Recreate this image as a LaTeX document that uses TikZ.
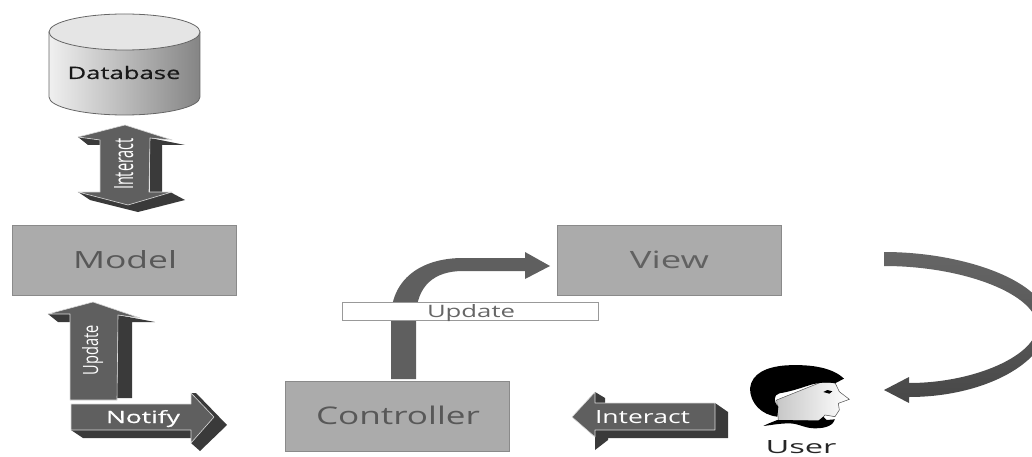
\documentclass[tikz,border=0pt]{standalone}
\usepackage{fontspec}
\usepackage{graphicx}
\setmainfont{Open Sans}
\newcommand{\fittext}[3]{\resizebox{#1pt}{#2pt}{#3}}
\definecolor{front}{HTML}{5F5F5F}
\definecolor{side}{HTML}{3A3A3A}
\definecolor{boxfill}{HTML}{ABABAB}
\definecolor{boxline}{HTML}{8A8A8A}
\definecolor{boxtext}{HTML}{585858}
\tikzset{
  frontface/.style={fill=front,draw=white!85!black,line width=.6pt,line join=round},
  sideface/.style={fill=side,draw=none},
  blockbox/.style={rectangle,draw=boxline,fill=boxfill,line width=1.2pt,minimum width=224pt,minimum height=70pt,inner sep=0pt,anchor=north west},
  lbl/.style={anchor=base,inner sep=0pt,outer sep=0pt,text=boxtext},
  wlbl/.style={lbl,text=white},
}
\begin{document}
\begin{tikzpicture}[x=1pt,y=-1pt]
\useasboundingbox (0,0) rectangle (1032,457);
% database
\path[left color=white!94!black,right color=white!52!black,draw=black!60,line width=.8pt]
  (49,32) -- (49,97) arc[start angle=180,end angle=360,x radius=75.5,y radius=-18] -- (200,32) -- cycle;
\path[fill=white!90!black,draw=black!60,line width=.8pt] (124.5,32) ellipse[x radius=75.5,y radius=18];
\node[lbl,text=black!90] (database) at (124,79) {\fittext{113}{13}{\addfontfeature{FakeBold=0.5}Database}};
% interact vertical
\path[sideface] (88,145) -- (78,137) -- (100,140) -- (100,145) -- cycle;
\path[sideface] (150,138) -- (185,145) -- (165,145) -- (162,145) -- (162,192) -- (150,192) -- cycle;
\path[sideface] (78,192) -- (90,200) -- (138,212) -- (185,200) -- (170,192) -- cycle;
\path[frontface] (100,192) -- (100,140) -- (78,137) -- (125,125) -- (172,140) -- (150,138) -- (149,192) -- (172,192) -- (128,205) -- (78,192) -- cycle;
\node[wlbl,rotate=90] (interactv) at (133,164) {\fittext{52}{19}{Interact}};
% model view controller
\node[blockbox] (model) at (12,225) {};
\node[blockbox] (view) at (557,225) {};
\node[blockbox] (controller) at (285,381) {};
\node[lbl] (modeltext) at (125,268.5) {\fittext{104}{18}{Model}};
\node[lbl,text=black!62] (viewtext) at (669.5,268.5) {\fittext{79}{17.5}{View}};
\node[lbl] (controllertext) at (398,424.5) {\fittext{164}{18.5}{Controller}};
% update arrow
\path[sideface] (48,314) -- (70,314) -- (70,322) -- (58,322) -- cycle;
\path[sideface] (118,315) -- (155,322) -- (132,322) -- (132,398) -- (117,398) -- cycle;
\path[frontface] (70,400) -- (70,314) -- (48,314) -- (93,302) -- (140,318) -- (118,315) -- (117,400) -- cycle;
\node[wlbl,rotate=90] (updatev) at (98,350) {\fittext{50}{16}{Update}};
% notify arrow
\path[sideface] (71,430) -- (83,438) -- (191,438) -- (191,430) -- cycle;
\path[sideface] (191,393) -- (196,393) -- (227,425) -- (200,451) -- (191,443) -- cycle;
\path[frontface] (71,404) -- (191,404) -- (191,393) -- (214,417) -- (191,443) -- (191,430) -- (71,430) -- cycle;
\node[wlbl] (notify) at (143,423) {\fittext{74}{13}{\addfontfeature{FakeBold=0.4}Notify}};
% curved update arrow
\path[fill=front] (391,379) -- (391,318) .. controls (391,280) and (420,258) .. (463,258) -- (525,258) -- (525,252) -- (550,266) -- (525,279) -- (525,271) -- (463,271) .. controls (435,271) and (416,285) .. (416,318) -- (416,379) -- cycle;
\node[rectangle,draw=black!40,fill=white,line width=.8pt,minimum width=256pt,minimum height=18pt,inner sep=0pt] (updatebox) at (470,311) {};
\node[lbl,text=black!60] (updatetext) at (471,317) {\fittext{88}{13}{Update}};
% interact horizontal
\path[sideface] (595,392) -- (605,398) -- (605,403) -- (595,403) -- cycle;
\path[sideface] (715,403) -- (728,412) -- (728,438) -- (608,438) -- (608,440) -- (595,450) -- (595,430) -- (715,430) -- cycle;
\path[frontface] (715,403) -- (595,403) -- (595,392) -- (572,417) -- (595,437) -- (595,430) -- (715,430) -- cycle;
\node[wlbl] (interacth) at (642.5,423) {\fittext{95}{13}{Interact}};
% big curved arrow
\begin{scope}
\clip (0,0) rectangle (1032,457);
\path[top color=black!60,bottom color=black!72]
  (884,252) .. controls (965,252) and (1048,282) .. (1048,322) .. controls (1048,362) and (985,397) .. (909,397) -- (909,403) -- (884,390) -- (909,377) -- (909,383) .. controls (975,383) and (1037,355) .. (1037,326) .. controls (1037,295) and (965,266) .. (884,266) -- cycle;
\end{scope}
% user
\begin{scope}[shift={(740,360)},x=.3333pt,y=-.3333pt]
\path[left color=white!78!black,right color=white,draw=black!70,line width=.5pt] (110,120) -- (240,68) -- (285,68) -- (298,95) -- (328,118) -- (295,130) -- (298,150) -- (285,170) -- (255,165) -- (240,182) -- (115,182) -- cycle;
\path[fill=black] (70,198) .. controls (85,190) and (100,185) .. (112,180) -- (235,182) -- (250,170) -- (260,180) -- (285,178) .. controls (280,195) and (260,205) .. (225,205) .. controls (195,205) and (180,192) .. (150,190) .. controls (120,190) and (95,195) .. (70,198) -- cycle;
\path[fill=black] (112,170) .. controls (65,165) and (30,130) .. (30,85) .. controls (35,40) and (80,20) .. (140,16) .. controls (220,12) and (280,25) .. (312,56) -- (285,70) .. controls (260,65) and (235,68) .. (210,75) .. controls (180,85) and (150,95) .. (118,100) .. controls (100,105) and (100,125) .. (115,140) -- cycle;
\path[fill=black] (250,96) -- (262,90) -- (277,94) -- (268,101) -- cycle;
\end{scope}
\node[lbl,text=black!85] (user) at (801,453.5) {\fittext{71}{13}{User}};
\end{tikzpicture}
\end{document}
